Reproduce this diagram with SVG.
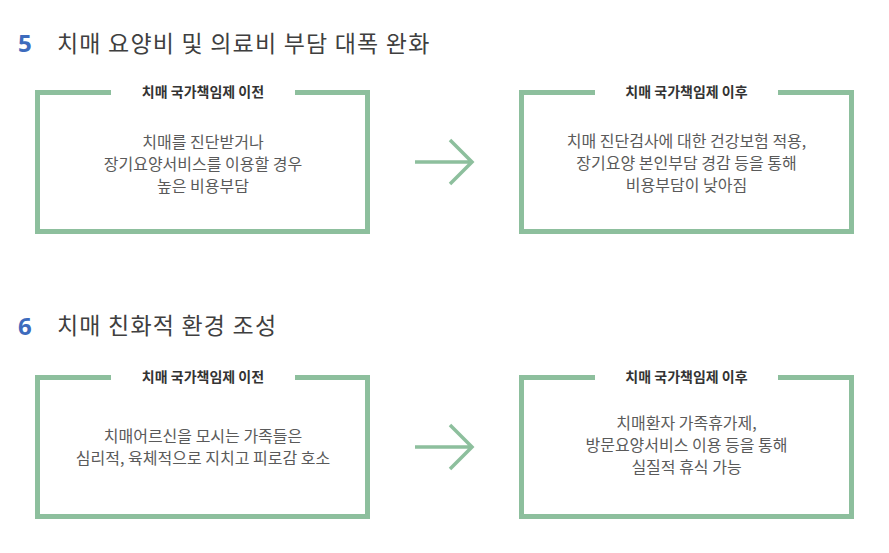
<svg xmlns="http://www.w3.org/2000/svg" width="889" height="553" viewBox="0 0 889 553">
<style>
.num{font-family:"Noto Sans","Liberation Sans",sans-serif;font-weight:bold;font-size:24px;fill:#3d6bbd}
.head{font-family:"Noto Sans CJK KR",sans-serif;font-size:23px;fill:#3f3f3f;letter-spacing:1.2px}
.box{fill:none;stroke:#8dbf9d;stroke-width:5}
.cap{font-family:"Noto Sans CJK KR",sans-serif;font-size:14px;font-weight:bold;fill:#333;text-anchor:middle}
.body{font-family:"Noto Sans CJK KR",sans-serif;font-size:16px;fill:#5a5a5a;text-anchor:middle}
.arr{fill:none;stroke:#8dbf9d;stroke-width:3.5;stroke-linecap:butt}
</style>
<rect width="889" height="553" fill="#fff"/>
<g id="heading5">
<text class="num" x="18" y="52">5</text>
<text class="head" x="57" y="52">치매 요양비 및 의료비 부담 대폭 완화</text>
</g>
<g id="heading6">
<text class="num" x="18" y="335">6</text>
<text class="head" x="57" y="334">치매 친화적 환경 조성</text>
</g>
<g id="box5-before">
<path class="box" d="M111 92.5H37.5V231.5H367.5V92.5H295"/>
<text class="cap" x="203" y="97">치매 국가책임제 이전</text>
<text class="body" x="203" y="148">치매를 진단받거나</text>
<text class="body" x="203" y="170">장기요양서비스를 이용할 경우</text>
<text class="body" x="203" y="192">높은 비용부담</text>
</g>
<g id="box5-after">
<path class="box" d="M595 92.5H521.5V231.5H851.5V92.5H778"/>
<text class="cap" x="686.5" y="97">치매 국가책임제 이후</text>
<text class="body" x="686.5" y="147">치매 진단검사에 대한 건강보험 적용,</text>
<text class="body" x="686.5" y="169">장기요양 본인부담 경감 등을 통해</text>
<text class="body" x="686.5" y="191">비용부담이 낮아짐</text>
</g>
<g id="box6-before">
<path class="box" d="M111 377.5H37.5V516.5H367.5V377.5H295"/>
<text class="cap" x="203" y="382">치매 국가책임제 이전</text>
<text class="body" x="203" y="442">치매어르신을 모시는 가족들은</text>
<text class="body" x="203" y="464">심리적, 육체적으로 지치고 피로감 호소</text>
</g>
<g id="box6-after">
<path class="box" d="M595 377.5H521.5V516.5H851.5V377.5H778"/>
<text class="cap" x="686.5" y="382">치매 국가책임제 이후</text>
<text class="body" x="686.5" y="429">치매환자 가족휴가제,</text>
<text class="body" x="686.5" y="451">방문요양서비스 이용 등을 통해</text>
<text class="body" x="686.5" y="473">실질적 휴식 가능</text>
</g>
<g id="connectors">
<path class="arr" d="M415 162H472M450 140L472 162L450 184"/>
<path class="arr" d="M415 447H472M450 425L472 447L450 469"/>
</g>
</svg>
